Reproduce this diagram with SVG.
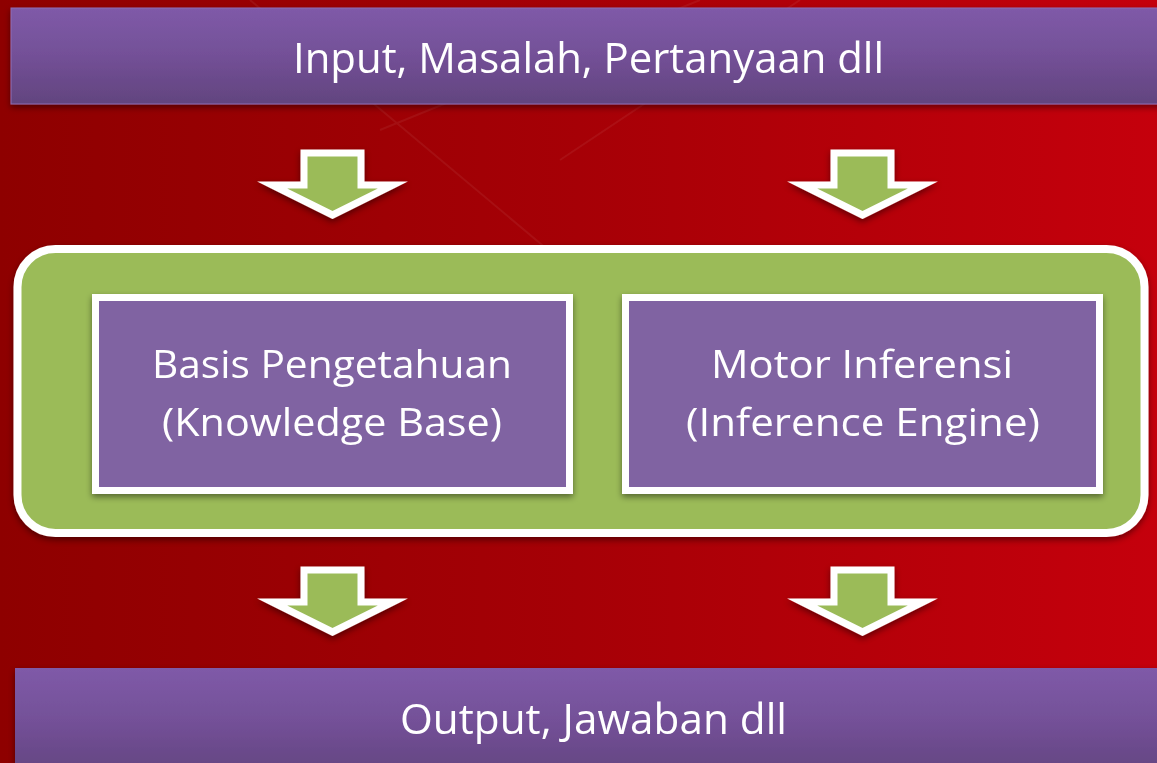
<svg xmlns="http://www.w3.org/2000/svg" width="1157" height="763" viewBox="0 0 1157 763">
  <defs>
    <linearGradient id="bg" x1="0" y1="0" x2="1" y2="0">
      <stop offset="0" stop-color="#8e0000"/>
      <stop offset="0.5" stop-color="#a60006"/>
      <stop offset="1" stop-color="#c5000c"/>
    </linearGradient>
    <linearGradient id="bar" x1="0" y1="0" x2="0" y2="1">
      <stop offset="0" stop-color="#7f5aa8"/>
      <stop offset="0.5" stop-color="#735097"/>
      <stop offset="1" stop-color="#62447f"/>
    </linearGradient>
    <filter id="sh" x="-10%" y="-10%" width="120%" height="130%">
      <feDropShadow dx="0" dy="3" stdDeviation="3" flood-color="#000" flood-opacity="0.45"/>
    </filter>
    <path id="arrow" d="M304,153 H361 V185 H393 L332.5,215 L272,185 H304 Z"/>
  </defs>
  <style>
    .t { font-family: "Open Sans", "Noto Sans", "Liberation Sans", sans-serif; fill: #ffffff; text-anchor: middle; }
    .arr { fill: #9bbb59; stroke: #ffffff; stroke-width: 7; stroke-linejoin: miter; stroke-miterlimit: 10; }
    .box { fill: #8064a2; stroke: #ffffff; stroke-width: 7; }
  </style>
  <rect x="0" y="0" width="1157" height="763" fill="url(#bg)"/>
  <g opacity="0.06" stroke="#ffffff" stroke-width="2" fill="none">
    <path d="M250,0 L560,260 M560,160 L800,0 M380,130 L700,0"/>
  </g>

  <g id="input" filter="url(#sh)">
    <rect x="11" y="8" width="1160" height="96" fill="url(#bar)" stroke="#8e6fb5" stroke-width="1"/>
    <text class="t" x="588.5" y="73" font-size="42" textLength="591" lengthAdjust="spacingAndGlyphs">Input, Masalah, Pertanyaan dll</text>
  </g>

  <g id="connectors" filter="url(#sh)">
    <use href="#arrow" class="arr"/>
    <use href="#arrow" class="arr" transform="translate(530,0)"/>
    <use href="#arrow" class="arr" transform="translate(0,417)"/>
    <use href="#arrow" class="arr" transform="translate(530,417)"/>
  </g>

  <g id="system" filter="url(#sh)">
    <rect x="17.5" y="249" width="1127" height="284" rx="38" fill="#9bbb59" stroke="#ffffff" stroke-width="8"/>
  </g>

  <g id="knowledge-base" filter="url(#sh)">
    <rect class="box" x="95.5" y="297.5" width="474" height="193"/>
    <text class="t" x="332" y="378" font-size="38" textLength="360" lengthAdjust="spacingAndGlyphs">Basis Pengetahuan</text>
    <text class="t" x="332" y="436" font-size="38" textLength="340" lengthAdjust="spacingAndGlyphs">(Knowledge Base)</text>
  </g>

  <g id="inference-engine" filter="url(#sh)">
    <rect class="box" x="625.5" y="297.5" width="474" height="193"/>
    <text class="t" x="862" y="378" font-size="38" textLength="302" lengthAdjust="spacingAndGlyphs">Motor Inferensi</text>
    <text class="t" x="863" y="436" font-size="38" textLength="354" lengthAdjust="spacingAndGlyphs">(Inference Engine)</text>
  </g>

  <g id="output" filter="url(#sh)">
    <rect x="15" y="668" width="1160" height="110" fill="url(#bar)"/>
    <text class="t" x="593.5" y="734" font-size="42" textLength="387" lengthAdjust="spacingAndGlyphs">Output, Jawaban dll</text>
  </g>
</svg>
